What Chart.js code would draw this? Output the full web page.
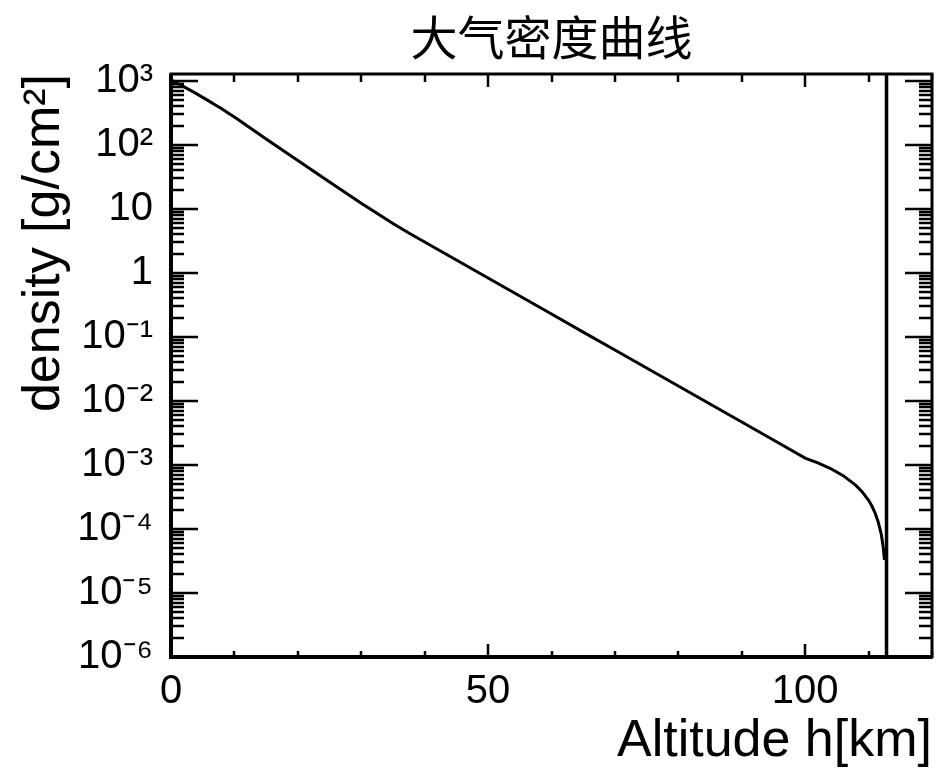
<!DOCTYPE html>
<html><head><meta charset="utf-8">
<script src="https://cdn.jsdelivr.net/npm/chart.js@4.4.1/dist/chart.umd.min.js"></script>
<style>html,body{margin:0;padding:0;background:#fff}canvas{display:block}</style>
</head><body>
<canvas id="c" width="940" height="771"></canvas>
<script>
const chartTitle = '大气密度曲线';
const xAxisTitle = 'Altitude h[km]';
const yAxisTitle = 'density [g/cm²]';

const altitudeKm = [0, 1, 2, 3, 4, 5, 6, 7, 8, 9, 10, 12.5, 15, 17.5, 20, 25, 30, 35, 37.5, 40, 45, 50, 55, 60, 65, 70, 75, 80, 85, 90, 95, 100, 102, 104, 106, 108, 109, 110, 110.5, 111, 111.5, 112, 112.3, 112.5];
const densityGcm2 = [1036, 919, 813, 718, 631, 553, 483, 421, 366, 316, 272, 184, 124, 84.0, 56.9, 26.3, 12.3, 5.93, 4.21, 3.04, 1.59, 0.832, 0.435, 0.228, 0.119, 0.0624, 0.0327, 0.0171, 0.00895, 0.00468, 0.00245, 0.00128, 0.00108, 0.00088, 0.00068, 0.00048, 0.00038, 0.00028, 0.00023, 0.00018, 0.00013, 0.000083, 0.000053, 0.000033];

const cutoffAltitudeKm = [112.83, 112.83];
const cutoffDensity = [1e-6, 1280];

const xRange = [0, 120];
const yRange = [1e-6, 1280];
const xTickValues = [0, 50, 100];
const xTickLabels = ['0', '50', '100'];
const xMinorStep = 10;
const yTickValues = [1e-6, 1e-5, 1e-4, 1e-3, 1e-2, 1e-1, 1, 10, 100, 1000];
const yTickLabels = ['10⁻⁶', '10⁻⁵', '10⁻⁴', '10⁻³', '10⁻²', '10⁻¹', '1', '10', '10²', '10³'];

const FONT = '"Liberation Sans", Arial, Helvetica, sans-serif';

const rootTicks = {
  id: 'rootTicks',
  afterDatasetsDraw(chart) {
    const {ctx, chartArea: {left, right, top, bottom}, scales: {x, y}} = chart;
    ctx.save();
    ctx.strokeStyle = '#000';
    ctx.lineCap = 'butt';
    ctx.lineWidth = 2.5;
    ctx.beginPath();
    yTickValues.forEach(base => {
      for (let m = 1; m <= 9; m++) {
        const v = base * m;
        if (v < y.min || v > y.max) continue;
        const py = Math.round(y.getPixelForValue(v));
        const len = m === 1 ? 27 : 13;
        ctx.moveTo(left, py); ctx.lineTo(left + len, py);
        ctx.moveTo(right, py); ctx.lineTo(right - len, py);
      }
    });
    for (let v = xRange[0]; v <= xRange[1]; v += xMinorStep) {
      const px = Math.round(x.getPixelForValue(v));
      const major = xTickValues.includes(v);
      const lenB = major ? 13 : 6;
      const lenT = major ? 13 : 8;
      ctx.moveTo(px, bottom); ctx.lineTo(px, bottom - lenB);
      ctx.moveTo(px, top); ctx.lineTo(px, top + lenT);
    }
    ctx.stroke();
    ctx.lineWidth = 3;
    ctx.strokeRect(left, top, right - left, bottom - top);
    ctx.lineWidth = 4;
    ctx.beginPath();
    ctx.moveTo(left, top); ctx.lineTo(left, bottom); ctx.lineTo(right, bottom);
    ctx.stroke();
    ctx.restore();
  }
};

new Chart(document.getElementById('c'), {
  type: 'line',
  data: {
    datasets: [
      {
        data: altitudeKm.map((h, i) => ({x: h, y: densityGcm2[i]})),
        borderColor: '#000', borderWidth: 3, pointRadius: 0, tension: 0, fill: false
      },
      {
        data: cutoffAltitudeKm.map((h, i) => ({x: h, y: cutoffDensity[i]})),
        borderColor: '#000', borderWidth: 3.5, pointRadius: 0, fill: false
      }
    ]
  },
  options: {
    responsive: false,
    animation: false,
    devicePixelRatio: 1,
    layout: {padding: {left: 0, right: 8, top: 0, bottom: 0}},
    plugins: {
      legend: {display: false},
      tooltip: {enabled: false},
      title: {
        display: true, text: chartTitle, fullSize: false, color: '#000',
        font: {family: '"Noto Sans CJK SC", sans-serif', size: 47, weight: 'normal', lineHeight: 1.2},
        padding: {top: 9, bottom: 8.6}
      }
    },
    scales: {
      x: {
        type: 'linear', min: xRange[0], max: xRange[1],
        grid: {display: false, drawTicks: false},
        border: {display: false},
        afterBuildTicks: s => { s.ticks = xTickValues.map(v => ({value: v})); },
        afterFit: s => { s.height = 114; },
        ticks: {
          color: '#000', padding: 11, maxRotation: 0, autoSkip: false,
          font: {family: FONT, size: 40},
          callback: (v) => xTickLabels[xTickValues.indexOf(v)] ?? ''
        },
        title: {
          display: true, text: xAxisTitle, align: 'end', color: '#000',
          font: {family: FONT, size: 52, lineHeight: 1},
          padding: {top: 0, bottom: 3}
        }
      },
      y: {
        type: 'logarithmic', min: yRange[0], max: yRange[1],
        grid: {display: false, drawTicks: false},
        border: {display: false},
        afterBuildTicks: s => { s.ticks = yTickValues.map(v => ({value: v, major: true})); },
        afterFit: s => { s.width = 171; },
        ticks: {
          color: '#000', padding: 18, autoSkip: false,
          font: {family: FONT, size: 40},
          callback: (v) => { const i = yTickValues.findIndex(t => Math.abs(t - v) / t < 1e-6); return i >= 0 ? yTickLabels[i] : ''; }
        },
        title: {
          display: true, text: yAxisTitle, align: 'end', color: '#000',
          font: {family: FONT, size: 52, lineHeight: 1},
          padding: {top: 19, bottom: 0}
        }
      }
    }
  },
  plugins: [rootTicks]
});
</script>
</body></html>
